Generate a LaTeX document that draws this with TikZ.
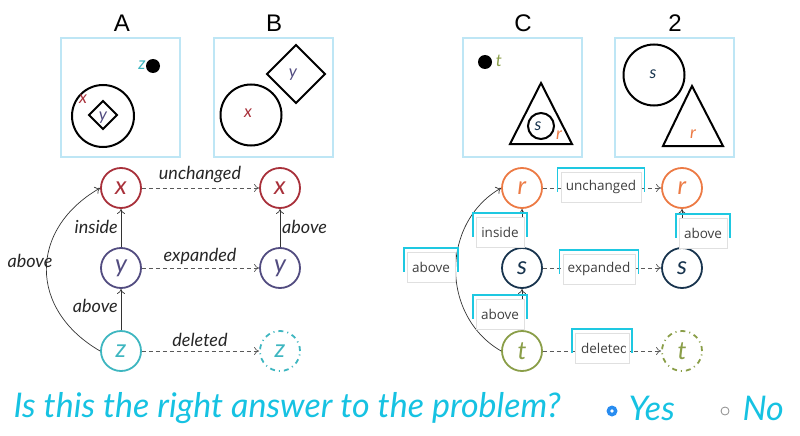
\documentclass[tikz,border=0pt]{standalone}
\usepackage{fontspec}
\setmainfont{Liberation Sans}
\newfontfamily\hand{Lato}
\newfontfamily\ui{Open Sans}
\usetikzlibrary{arrows.meta,positioning}
\definecolor{xred}{RGB}{168,48,58}
\definecolor{ypurple}{RGB}{82,76,128}
\definecolor{zteal}{RGB}{62,182,192}
\definecolor{rorange}{RGB}{236,122,68}
\definecolor{snavy}{RGB}{24,52,78}
\definecolor{tolive}{RGB}{138,158,72}
\definecolor{panelblue}{RGB}{190,230,245}
\definecolor{tagcyan}{RGB}{30,200,225}
\definecolor{askcyan}{RGB}{22,194,226}
\definecolor{radioblue}{RGB}{40,140,240}

\begin{document}
\begin{tikzpicture}[x=1pt, y=-1pt,
	roundnode/.style={circle, draw=#1, text=#1, line width=1.8pt, minimum size=40pt, inner sep=0pt, font=\hand\itshape\fontsize{25}{25}\selectfont},
	gonenode/.style={roundnode=#1, dash pattern=on 5pt off 4pt on 1pt off 4pt},
	panel/.style={draw=panelblue, line width=1.2pt},
	outline/.style={draw=black, line width=2pt},
	letter/.style={font=\hand\itshape\fontsize{17}{17}\selectfont, text=#1},
	title/.style={font=\fontsize{24}{24}\selectfont},
	rel/.style={-{To[length=5pt,width=8pt]}, line width=0.7pt, black!80},
	change/.style={rel, dash pattern=on 4pt off 3pt, black!65},
	handlabel/.style={font=\hand\itshape\fontsize{18}{18}\selectfont, text=black!85, inner sep=1pt},
	uilabel/.style={draw=black!12, fill=white, minimum height=30pt, inner xsep=5pt, font=\ui\fontsize{13.5}{13.5}\selectfont, text=black!75},
	asktext/.style={font=\hand\itshape\fontsize{34}{34}\selectfont, text=askcyan, anchor=west}]
	\useasboundingbox (0,0) rectangle (800,436);

	% scenes
	\node[title] (tA) at (122,23) {A};
	\node[title] (tB) at (274,23) {B};
	\node[title] (tC) at (523,23) {C};
	\node[title] (t2) at (675,23) {2};
	\foreach \px in {61, 214, 463, 615}
		\draw[panel] (\px,38) rectangle ++(119,119);

	\fill (153,66) circle (7);
	\node[letter=zteal] at (142,65) {z};
	\draw[outline] (103,116) circle (31);
	\node[letter=xred] at (83,99) {x};
	\draw[outline] (103,101) -- (117,115) -- (103,129) -- (89,115) -- cycle;
	\node[letter=ypurple] at (103,118) {y};

	\draw[outline] (296,45) -- (325,74) -- (296,103) -- (267,74) -- cycle;
	\node[letter=ypurple] at (293,75) {y};
	\draw[outline] (251,115) circle (30.5);
	\node[letter=xred] at (248,113) {x};

	\fill (485,62) circle (7);
	\node[letter=tolive] at (499,61) {t};
	\draw[outline] (541,83) -- (572,144) -- (510,144) -- cycle;
	\draw[outline] (541,126) circle (13);
	\node[letter=snavy] at (538,126) {s};
	\node[letter=rorange] at (559,135) {r};

	\draw[outline] (654,75) circle (30.5);
	\node[letter=snavy] at (653,74) {s};
	\draw[outline] (692,86) -- (723,146) -- (663,146) -- cycle;
	\node[letter=rorange] at (693,134) {r};

	% left graph
	\foreach \v/\c/\y in {x/xred/188, y/ypurple/268, z/zteal/351}
		\node[roundnode=\c] (\v1) at (121,\y) {\v};
	\node[roundnode=xred] (x2) at (280,188) {x};
	\node[roundnode=ypurple] (y2) at (280,268) {y};
	\node[gonenode=zteal] (z2) at (280,351) {z};
		\draw[rel] (y1) -- (x1);
		\draw[rel] (z1) -- (y1);
		\draw[rel] (y2) -- (x2);
		\draw[rel] (z1.west) to[out=150, in=210, looseness=1.3] (x1.west);
		\draw[change] (x1) -- (x2);
		\draw[change] (y1) -- (y2);
		\draw[change] (z1) -- (z2);
	\node[handlabel] (lu) at (200,175) {unchanged};
	\node[handlabel] (le) at (200,256) {expanded};
	\node[handlabel] (ld) at (200,340) {deleted};
	\node[handlabel, anchor=east] (li) at (119,227) {inside};
	\node[handlabel, anchor=east] (lb) at (119,306) {above};
	\node[handlabel, anchor=west] (lr) at (281,227) {above};
	\node[handlabel] (la) at (30,261) {above};

	% right graph
	\foreach \v/\c/\y in {r/rorange/188, s/snavy/268, t/tolive/351}
		\node[roundnode=\c] (\v1) at (522,\y) {\v};
	\node[roundnode=rorange] (r2) at (682,188) {r};
	\node[roundnode=snavy] (s2) at (682,268) {s};
	\node[gonenode=tolive] (t2) at (682,351) {t};
		\draw[rel] (s1) -- (r1);
		\draw[rel] (t1) -- (s1);
		\draw[rel] (s2) -- (r2);
		\draw[rel] (t1.west) to[out=150, in=210, looseness=1.1] (r1.west);
		\draw[change] (r1) -- (r2);
		\draw[change] (s1) -- (s2);
		\draw[change] (t1) -- (t2);
	\node[uilabel] (ru) at (601,187) {unchanged};
	\node[uilabel] (ri) at (500,232) {inside};
	\node[uilabel] (ra) at (431,267) {above};
	\node[uilabel] (re) at (599,269) {expanded};
	\node[uilabel] (rb) at (500,314) {above};
	\node[uilabel] (rr) at (703,233) {above};
	\node[uilabel, minimum width=54pt] (rd) at (602,348) {};
	\begin{scope}
		\clip ([shift={(1pt,-1pt)}]rd.north west) rectangle ([shift={(-4pt,1pt)}]rd.south east);
		\node[uilabel, draw=none, fill=none, inner xsep=0pt, anchor=west] at ([xshift=6pt]rd.west) {deleted};
	\end{scope}
	\foreach \n in {ru, ri, ra, re, rb, rr, rd}
		\draw[tagcyan, line width=1.6pt] ([shift={(-3pt,-20pt)}]\n.north west) -- ([shift={(-3pt,4pt)}]\n.north west) -- ([shift={(3pt,4pt)}]\n.north east) -- ([shift={(3pt,-20pt)}]\n.north east);

	% question
	\node[asktext] (ask) at (10,408) {Is this the right answer to the problem?};
	\fill[radioblue] (612,411) circle (5.5);
	\fill[white] (612,411) circle (1.8);
	\node[asktext] (yes) at (625,408) {Yes};
	\draw[black!45, line width=0.8pt] (725,411) circle (4);
	\node[asktext] (no) at (739,408) {No};
\end{tikzpicture}
\end{document}
